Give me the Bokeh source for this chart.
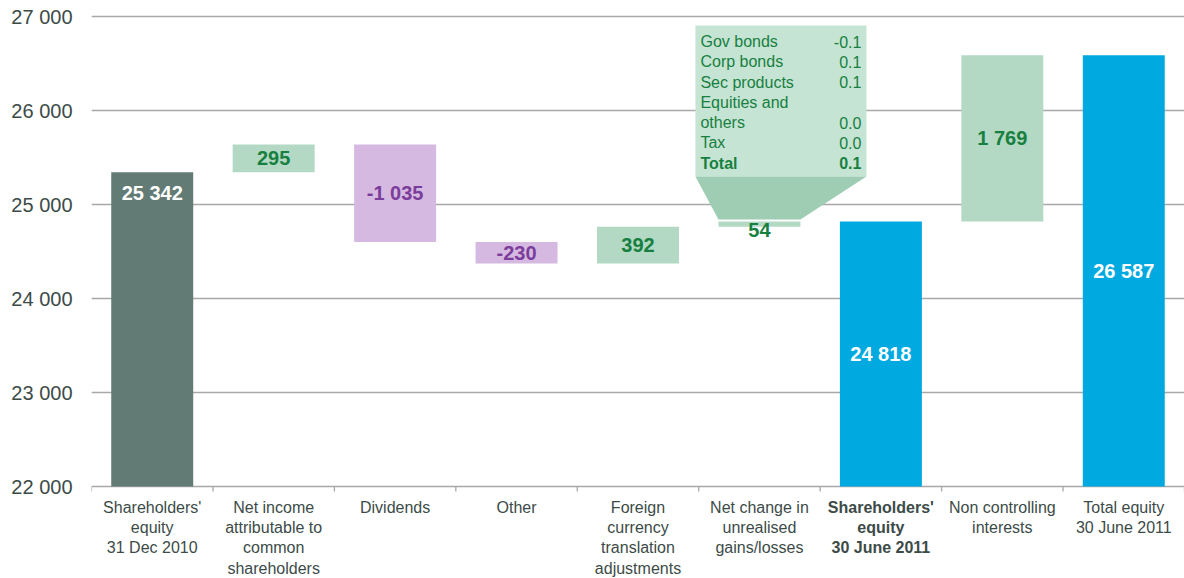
from bokeh.plotting import figure
from bokeh.models import Range1d, FixedTicker
from bokeh.core.properties import value
from bokeh.embed import file_html
from bokeh.resources import INLINE

# ---------------- data ----------------
categories = ["Shareholders'\nequity\n31 Dec 2010",
              "Net income\nattributable to\ncommon\nshareholders",
              "Dividends",
              "Other",
              "Foreign\ncurrency\ntranslation\nadjustments",
              "Net change in\nunrealised\ngains/losses",
              "Shareholders'\nequity\n30 June 2011",
              "Non controlling\ninterests",
              "Total equity\n30 June 2011"]
amounts = [25342, 295, -1035, -230, 392, 54, 24818, 1769, 26587]
kinds = ["start", "delta", "delta", "delta", "delta", "delta", "total", "delta", "total"]
amount_labels = ["25 342", "295", "-1 035", "-230", "392", "54", "24 818", "1 769", "26 587"]
y_ticks = [22000, 23000, 24000, 25000, 26000, 27000]
y_tick_labels = ["22 000", "23 000", "24 000", "25 000", "26 000", "27 000"]
callout_names = ["Gov bonds", "Corp bonds", "Sec products", "Equities and", "others", "Tax", "Total"]
callout_values = ["-0.1", "0.1", "0.1", "", "0.0", "0.0", "0.1"]
callout_category = 5
bold_category = 6

# ---------------- layout ----------------
W, H = 1184, 578
LEFT = 91
PXV = 1000.0 / 94.0           # data units per vertical pixel
Y_BASE = 22000
y_end = 27000 + 16 * PXV
y_start = y_end - H * PXV
CWP = (W - LEFT) / 9.0        # pixels per category
def hx(px):
    return px / CWP
def ypage(py):                 # page-y (reference) -> data
    return 27000 - (py - 16) * PXV

FONT = "Liberation Sans"
C_START = "#627b74"
C_POS = "#b3d9c5"
C_NEG = "#d6b9e0"
C_TOT = "#00a9e0"
T_POS = "#178040"
T_NEG = "#7b3d9c"
T_AXIS = "#3c4b48"

p = figure(width=W, height=H, x_range=Range1d(-0.5, 8.5), y_range=Range1d(y_start, y_end),
           output_backend="svg", toolbar_location=None, x_axis_location=None,
           min_border_left=LEFT, min_border_right=0, min_border_top=0, min_border_bottom=0)
p.outline_line_color = None
p.background_fill_color = "white"
p.border_fill_color = "white"
p.xgrid.visible = False
p.yaxis.ticker = FixedTicker(ticks=y_ticks)
p.yaxis.major_label_overrides = {t: s for t, s in zip(y_ticks, y_tick_labels)}
p.yaxis.axis_line_color = None
p.yaxis.major_tick_line_color = None
p.yaxis.minor_tick_line_color = None
p.yaxis.major_label_standoff = 13
p.yaxis.major_label_text_font = FONT
p.yaxis.major_label_text_font_size = "20px"
p.yaxis.major_label_text_color = T_AXIS
p.ygrid.grid_line_color = "#a8a8a8"
p.ygrid.grid_line_width = 1.3

# ---------------- bars ----------------
xs = list(range(len(amounts)))
bottoms, tops, colors, label_y, label_col = [], [], [], [], []
run = 0
for i, (v, k) in enumerate(zip(amounts, kinds)):
    if k in ("start", "total"):
        b, t = Y_BASE, v
        run = v
        colors.append(C_START if k == "start" else C_TOT)
        label_col.append("white")
        label_y.append(t - 21 * PXV if k == "start" else (b + t) / 2)
    else:
        b, t = min(run, run + v), max(run, run + v)
        run += v
        colors.append(C_POS if v > 0 else C_NEG)
        label_col.append(T_POS if v > 0 else T_NEG)
        label_y.append(b - 3 * PXV if abs(v) < 100 else (b + t) / 2)
    bottoms.append(b)
    tops.append(t)

BAR_W = 0.675

# callout box + funnel
cx = callout_category
box_top, box_bot = ypage(25), ypage(176)
funnel_bot = tops[cx] + 2 * PXV
p.quad(left=[cx - hx(64)], right=[cx + hx(107)], top=[box_top], bottom=[box_bot],
       fill_color="#c6e4d4", line_color=None)
p.patch(x=[cx - hx(64), cx + hx(107), cx + BAR_W / 2, cx - BAR_W / 2],
        y=[box_bot, box_bot, funnel_bot, funnel_bot], fill_color="#9ecdb3", line_color=None)

p.vbar(x=xs, bottom=bottoms, top=tops, width=BAR_W, fill_color=colors, line_color=None)

p.text(x=xs, y=label_y, text=amount_labels, text_color=label_col,
       text_align="center", text_baseline="middle",
       text_font=value(FONT), text_font_size="20px", text_font_style="bold")

# callout texts
row_y = [ypage(41 + 20.25 * i) for i in range(len(callout_names))]
n = len(callout_names)
p.text(x=[cx - hx(59)] * (n - 1), y=row_y[:-1], text=callout_names[:-1], text_color=T_POS,
       text_align="left", text_baseline="middle", text_font=value(FONT), text_font_size="16px")
p.text(x=[cx + hx(102)] * (n - 1), y=row_y[:-1], text=callout_values[:-1], text_color=T_POS,
       text_align="right", text_baseline="middle", text_font=value(FONT), text_font_size="16px")
p.text(x=[cx - hx(59)], y=row_y[-1:], text=callout_names[-1:], text_color=T_POS,
       text_align="left", text_baseline="middle", text_font=value(FONT), text_font_size="16px",
       text_font_style="bold")
p.text(x=[cx + hx(102)], y=row_y[-1:], text=callout_values[-1:], text_color=T_POS,
       text_align="right", text_baseline="middle", text_font=value(FONT), text_font_size="16px",
       text_font_style="bold")

# baseline ticks at category boundaries
bounds = [i - 0.5 for i in range(len(categories) + 1)]
p.segment(x0=bounds, y0=[Y_BASE] * len(bounds), x1=bounds, y1=[Y_BASE - 5 * PXV] * len(bounds),
          line_color="#a8a8a8", line_width=1.3)

# category labels
cat_y = ypage(498)
norm_idx = [i for i in xs if i != bold_category]
p.text(x=norm_idx, y=[cat_y] * len(norm_idx), text=[categories[i] for i in norm_idx],
       text_color=T_AXIS, text_align="center", text_baseline="top", text_line_height=1.2,
       text_font=value(FONT), text_font_size="16px")
p.text(x=[bold_category], y=[cat_y], text=[categories[bold_category]],
       text_color=T_AXIS, text_align="center", text_baseline="top", text_line_height=1.2,
       text_font=value(FONT), text_font_size="16px", text_font_style="bold")

open("out.html", "w").write(file_html(p, INLINE))
